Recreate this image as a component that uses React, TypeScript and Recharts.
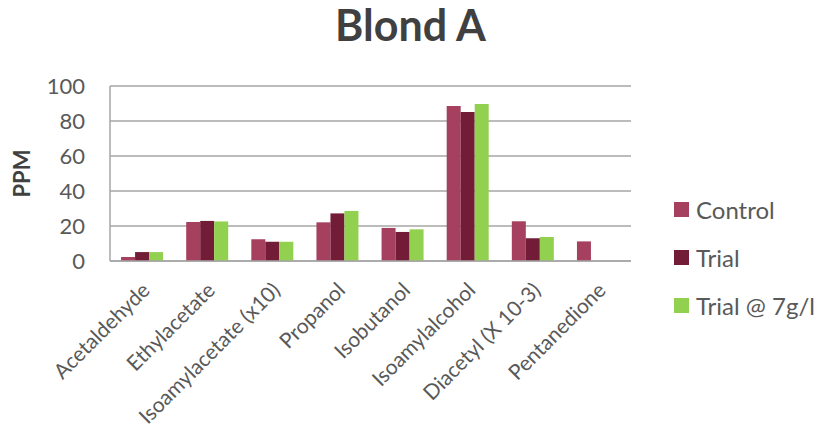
import React from 'react';
import { BarChart, Bar, XAxis, YAxis, CartesianGrid, Legend } from 'recharts';

const categories = ['Acetaldehyde', 'Ethylacetate', 'Isoamylacetate (x10)', 'Propanol', 'Isobutanol', 'Isoamylalcohol', 'Diacetyl (X 10-3)', 'Pentanedione'];
const control = [2.3, 22.3, 12.4, 22.1, 18.9, 88.6, 22.7, 11.2];
const trial = [5.1, 22.9, 11.0, 27.2, 16.6, 85.1, 13.0, null];
const trial7 = [5.1, 22.6, 11.0, 28.6, 18.1, 89.7, 13.7, null];
const yTicks = [0, 20, 40, 60, 80, 100];

const seriesNames = ['Control', 'Trial', 'Trial @ 7g/l'];
const colors = ['#A5405E', '#731C37', '#92D050'];

const data = categories.map((c, i) => ({ name: c, control: control[i], trial: trial[i], trial7: trial7[i] }));

const FONT = 'Lato, "Open Sans", sans-serif';

const XTick = (props: any) => {
  const { x, y, payload } = props;
  return (
    <g transform={`translate(${x - 2},${y})`}>
      <text x={0} y={0} dy="0.71em" textAnchor="end" transform="rotate(-45)" fill="#595959" fontSize={21} fontFamily={FONT}>
        {payload.value}
      </text>
    </g>
  );
};

const LegendContent = () => (
  <div style={{ fontFamily: FONT, fontSize: 24, color: '#595959' }}>
    {seriesNames.map((n, i) => (
      <div key={n} style={{ display: 'flex', alignItems: 'center', height: 48, whiteSpace: 'nowrap' }}>
        <span style={{ display: 'inline-block', width: 15, height: 15, background: colors[i], marginRight: 7 }} />
        <span>{n}</span>
      </div>
    ))}
  </div>
);

export default function App() {
  return (
    <div style={{ position: 'absolute', left: 0, top: 0, width: 821, height: 438, background: '#fff', overflow: 'hidden' }}>
      <div style={{ position: 'absolute', left: 0, top: 0, width: 821, textAlign: 'center', fontFamily: FONT, fontWeight: 700, fontSize: 43, color: '#404040', lineHeight: '50px' }}>
        Blond A
      </div>
      <BarChart width={821} height={438} data={data} margin={{ top: 86, right: 30, bottom: 0, left: 0 }} barGap={0} barCategoryGap="17%">
        <CartesianGrid vertical={false} stroke="#A6A6A6" strokeWidth={1.5} />
        <XAxis dataKey="name" interval={0} height={177} tickLine={false} axisLine={{ stroke: '#A6A6A6', strokeWidth: 1.5 }} tick={<XTick />} tickSize={0} tickMargin={20} />
        <YAxis width={110} domain={[0, 100]} ticks={yTicks} tickLine={false} axisLine={{ stroke: '#A6A6A6', strokeWidth: 1.5 }} tickSize={0} tickMargin={25} tick={{ fill: '#595959', fontSize: 22, fontFamily: FONT }}
          label={{ value: 'PPM', angle: -90, position: 'insideLeft', offset: 22, style: { fontFamily: FONT, fontWeight: 700, fontSize: 22, fill: '#404040', textAnchor: 'middle' } }} />
        <Legend layout="vertical" align="right" verticalAlign="top" wrapperStyle={{ left: 674, top: 185, width: 160 }} content={<LegendContent />} />
        <Bar dataKey="control" name={seriesNames[0]} fill={colors[0]} isAnimationActive={false} />
        <Bar dataKey="trial" name={seriesNames[1]} fill={colors[1]} isAnimationActive={false} />
        <Bar dataKey="trial7" name={seriesNames[2]} fill={colors[2]} isAnimationActive={false} />
      </BarChart>
    </div>
  );
}
